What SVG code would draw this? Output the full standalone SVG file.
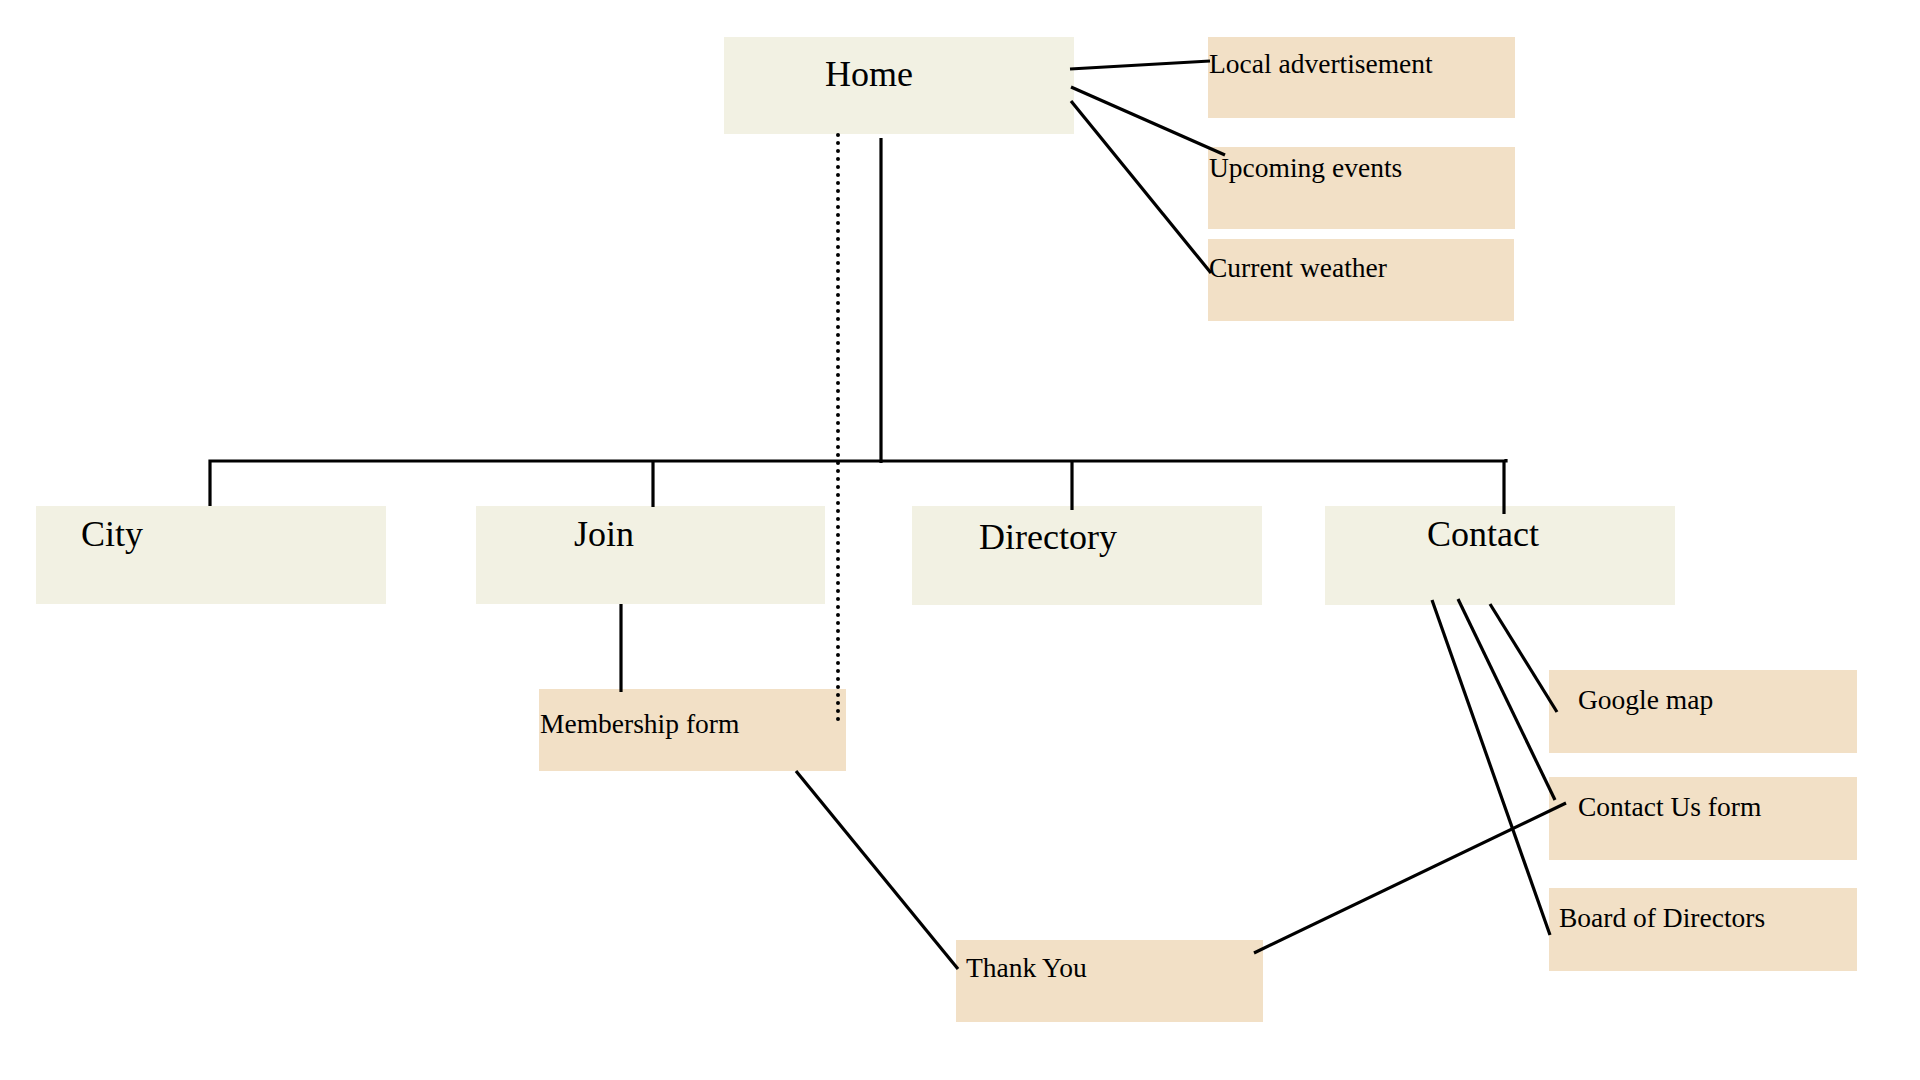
<svg xmlns="http://www.w3.org/2000/svg" width="1920" height="1080" viewBox="0 0 1920 1080">
<style>
.main{fill:#F2F1E3}
.sub{fill:#F2E0C6}
.t1{font-family:"Liberation Serif",serif;font-size:36px;fill:#000}
.t2{font-family:"Liberation Serif",serif;font-size:27.5px;fill:#000}
.ln{stroke:#000;stroke-width:3.2;fill:none}
.dot{stroke:#000;stroke-width:4;fill:none;stroke-dasharray:0 8;stroke-linecap:round}
</style>
<rect width="1920" height="1080" fill="#fff"/>
<g id="home"><rect class="main" x="724" y="37" width="350" height="97"/><text class="t1" x="825" y="86">Home</text></g>
<g id="local-ad"><rect class="sub" x="1208" y="37" width="307" height="81"/><text class="t2" x="1209" y="73">Local advertisement</text></g>
<g id="upcoming"><rect class="sub" x="1208" y="147" width="307" height="82"/><text class="t2" x="1209" y="177">Upcoming events</text></g>
<g id="weather"><rect class="sub" x="1208" y="239" width="306" height="82"/><text class="t2" x="1209" y="277">Current weather</text></g>
<g id="city"><rect class="main" x="36" y="506" width="350" height="98"/><text class="t1" x="81" y="546">City</text></g>
<g id="join"><rect class="main" x="476" y="506" width="349" height="98"/><text class="t1" x="574" y="546">Join</text></g>
<g id="directory"><rect class="main" x="912" y="506" width="350" height="99"/><text class="t1" x="979" y="549">Directory</text></g>
<g id="contact"><rect class="main" x="1325" y="506" width="350" height="99"/><text class="t1" x="1427" y="546">Contact</text></g>
<g id="membership"><rect class="sub" x="539" y="689" width="307" height="82"/><text class="t2" x="540" y="733">Membership form</text></g>
<g id="google"><rect class="sub" x="1549" y="670" width="308" height="83"/><text class="t2" x="1578" y="709">Google map</text></g>
<g id="contact-form"><rect class="sub" x="1549" y="777" width="308" height="83"/><text class="t2" x="1578" y="816">Contact Us form</text></g>
<g id="board"><rect class="sub" x="1549" y="888" width="308" height="83"/><text class="t2" x="1559" y="927">Board of Directors</text></g>
<g id="thankyou"><rect class="sub" x="956" y="940" width="307" height="82"/><text class="t2" x="966" y="977">Thank You</text></g>
<g id="connectors">
<line class="ln" x1="1070" y1="69" x2="1210" y2="61"/>
<line class="ln" x1="1071" y1="87" x2="1225" y2="155"/>
<line class="ln" x1="1071" y1="101" x2="1211" y2="273"/>
<line class="ln" x1="881" y1="138" x2="881" y2="463"/>
<line class="dot" x1="838" y1="135" x2="838" y2="725"/>
<polyline class="ln" points="210,506 210,461 1506,461 1506,459"/>
<line class="ln" x1="653" y1="461" x2="653" y2="507"/>
<line class="ln" x1="1072" y1="461" x2="1072" y2="510"/>
<line class="ln" x1="1504" y1="461" x2="1504" y2="514"/>
<line class="ln" x1="621" y1="604" x2="621" y2="692"/>
<line class="ln" x1="796" y1="771" x2="958" y2="969"/>
<line class="ln" x1="1490" y1="604" x2="1557" y2="712"/>
<line class="ln" x1="1458" y1="599" x2="1555" y2="800"/>
<line class="ln" x1="1432" y1="600" x2="1550" y2="935"/>
<line class="ln" x1="1254" y1="953" x2="1566" y2="803"/>
</g>
</svg>
